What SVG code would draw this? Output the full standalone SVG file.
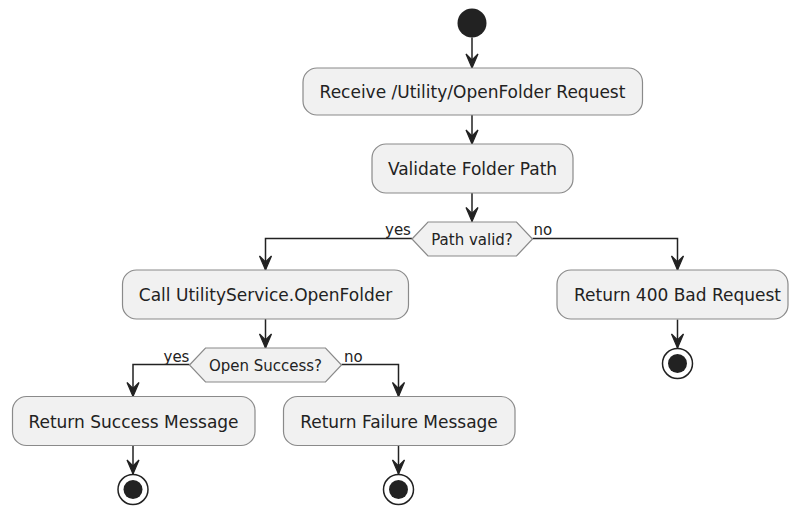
<svg xmlns="http://www.w3.org/2000/svg" width="789" height="506" viewBox="0 0 789 506">
  <style>
    .act { fill: #F1F1F1; stroke: #8a8a8a; stroke-width: 1.2; }
    .dec { fill: #F1F1F1; stroke: #8a8a8a; stroke-width: 1.2; }
    .txt { font-family: "DejaVu Sans", Verdana, sans-serif; font-size: 17px; fill: #222222; text-anchor: middle; }
    .dtxt { font-family: "DejaVu Sans", Verdana, sans-serif; font-size: 15px; fill: #222222; text-anchor: middle; }
    .lbl { font-family: "DejaVu Sans", Verdana, sans-serif; font-size: 15px; fill: #222222; }
    .flow { fill: none; stroke: #222222; stroke-width: 1.5; marker-end: url(#arrow); }
    .startdot { fill: #222222; }
    .endring { fill: #FFFFFF; stroke: #222222; stroke-width: 1.5; }
    .enddot { fill: #222222; }
  </style>
  <defs>
    <marker id="arrow" viewBox="-16 -8 18 16" refX="0" refY="0" markerWidth="18" markerHeight="16" markerUnits="userSpaceOnUse" orient="auto">
      <path d="M0,0 L-14,-6 L-8,0 L-14,6 Z" fill="#222222" stroke="#222222" stroke-width="1.2" stroke-linejoin="miter"/>
    </marker>
  </defs>

  <rect width="789" height="506" fill="#FFFFFF"/>

  <!-- connectors -->
  <g id="connectors">
    <path class="flow" d="M472,37.5 V68"/>
    <path class="flow" d="M472,115 V144"/>
    <path class="flow" d="M472,193 V221.5"/>
    <path class="flow" d="M412,238.5 H265.5 V270"/>
    <path class="flow" d="M532.5,238.5 H677.5 V270"/>
    <path class="flow" d="M265.5,319 V348"/>
    <path class="flow" d="M189.5,364.5 H133 V396.5"/>
    <path class="flow" d="M341.5,364.5 H398.5 V396.5"/>
    <path class="flow" d="M677.5,319.5 V348"/>
    <path class="flow" d="M133,446 V474"/>
    <path class="flow" d="M398.5,446 V474"/>
    <text class="lbl" x="385" y="235">yes</text>
    <text class="lbl" x="533.5" y="235">no</text>
    <text class="lbl" x="163.5" y="362">yes</text>
    <text class="lbl" x="344" y="362">no</text>
  </g>

  <!-- start -->
  <g id="start">
    <circle class="startdot" cx="472" cy="23" r="14.5"/>
  </g>

  <g id="receive-request">
    <rect class="act" x="303" y="68" width="339.5" height="47" rx="14" ry="14"/>
    <text class="txt" x="472.5" y="97.5">Receive /Utility/OpenFolder Request</text>
  </g>

  <g id="validate-path">
    <rect class="act" x="372" y="144" width="201" height="49" rx="14" ry="14"/>
    <text class="txt" x="472.5" y="175">Validate Folder Path</text>
  </g>

  <g id="path-valid">
    <polygon class="dec" points="412,239 428,222 516.5,222 532.5,239 516.5,256 428,256"/>
    <text class="dtxt" x="472" y="245">Path valid?</text>
  </g>

  <g id="call-service">
    <rect class="act" x="122.5" y="270" width="286" height="49" rx="14" ry="14"/>
    <text class="txt" x="265.5" y="301">Call UtilityService.OpenFolder</text>
  </g>

  <g id="bad-request">
    <rect class="act" x="557" y="270" width="231" height="49" rx="14" ry="14"/>
    <text class="txt" x="677.5" y="301">Return 400 Bad Request</text>
  </g>

  <g id="bad-request-end">
    <circle class="endring" cx="677.5" cy="363.5" r="15"/>
    <circle class="enddot" cx="677.5" cy="363.5" r="9.5"/>
  </g>

  <g id="open-success">
    <polygon class="dec" points="189.5,365 205.5,348 325.5,348 341.5,365 325.5,382 205.5,382"/>
    <text class="dtxt" x="265.5" y="371">Open Success?</text>
  </g>

  <g id="success-message">
    <rect class="act" x="12.5" y="396.5" width="242.5" height="49" rx="14" ry="14"/>
    <text class="txt" x="133.5" y="428">Return Success Message</text>
  </g>

  <g id="failure-message">
    <rect class="act" x="283.5" y="396.5" width="231.5" height="49" rx="14" ry="14"/>
    <text class="txt" x="399" y="428">Return Failure Message</text>
  </g>

  <g id="success-end">
    <circle class="endring" cx="133" cy="489.5" r="15"/>
    <circle class="enddot" cx="133" cy="489.5" r="9.5"/>
  </g>

  <g id="failure-end">
    <circle class="endring" cx="398.5" cy="489.5" r="15"/>
    <circle class="enddot" cx="398.5" cy="489.5" r="9.5"/>
  </g>
</svg>
